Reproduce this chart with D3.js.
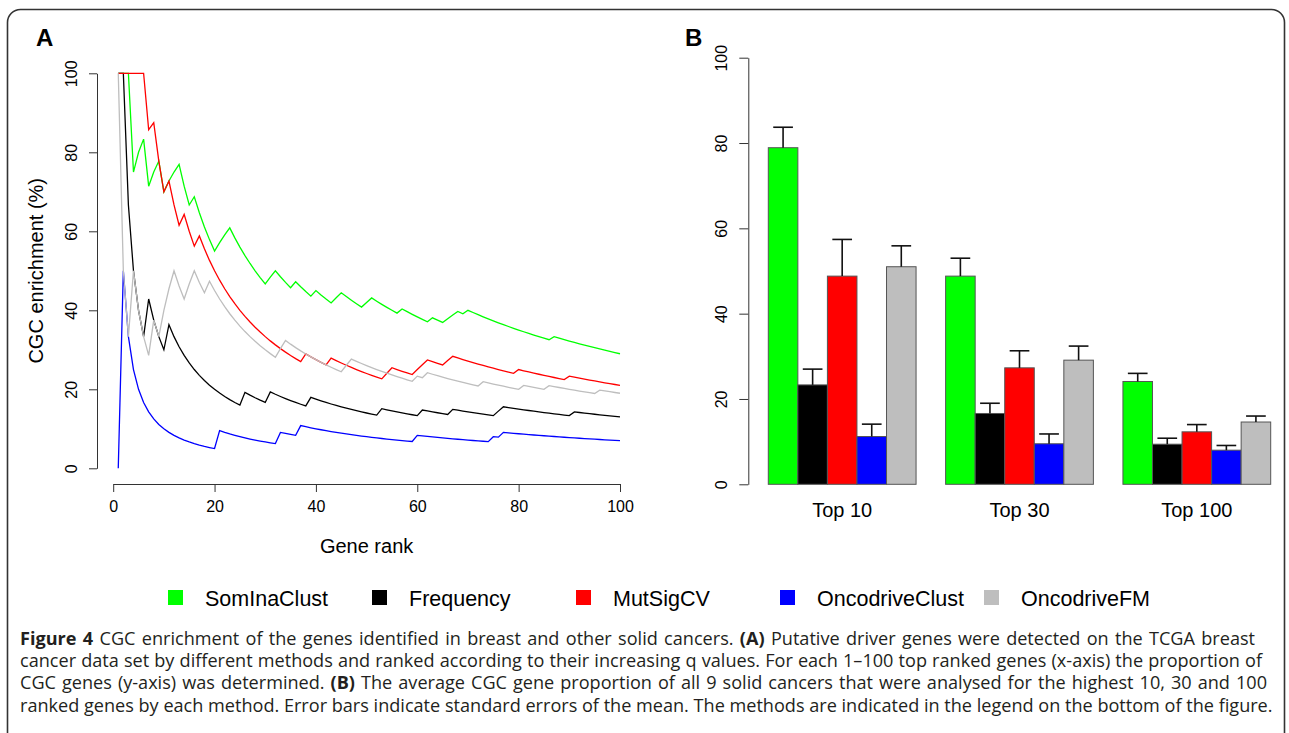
<!DOCTYPE html>
<html>
<head>
<meta charset="utf-8">
<script src="https://cdn.jsdelivr.net/npm/d3@7"></script>
<style>
  html, body { margin: 0; padding: 0; background: #fff; }
  svg { display: block; }
  .chart text { font-family: 'Liberation Sans', Arial, Helvetica, sans-serif; fill: #000; }
  .caption text { font-family: 'Open Sans', sans-serif; fill: #231f20; white-space: pre; }
</style>
</head>
<body>
<script>
const width = 1289
const height = 733

const methods = ['SomInaClust', 'Frequency', 'MutSigCV', 'OncodriveClust', 'OncodriveFM']
const methodColors = ['#00ff00', '#000000', '#ff0000', '#0000ff', '#bebebe']

// Panel A: ranks (1-100) at which each method picks up a CGC gene,
// read off the upward steps of the curves
const maxRank = 100
const hitsSomInaClust = [1, 2, 3, 5, 6, 8, 9, 11, 12, 13, 16, 21, 22, 23, 31, 32, 36, 40, 44, 45, 50, 51, 57, 63, 66, 67, 68, 70, 87]
const hitsFrequency = [1, 2, 7, 11, 26, 31, 39, 53, 61, 67, 76, 77, 91]
const hitsMutSigCV = [1, 2, 3, 4, 5, 6, 8, 11, 14, 17, 38, 43, 54, 55, 60, 61, 62, 66, 67, 80, 90]
const hitsOncodriveClust = [2, 21, 33, 37, 60, 75, 77]
const hitsOncodriveFM = [1, 4, 8, 10, 11, 12, 15, 16, 19, 33, 34, 46, 47, 60, 62, 73, 81, 86, 96]
const xTicksA = [0, 20, 40, 60, 80, 100]
const yTicks = [0, 20, 40, 60, 80, 100]

// Panel B: mean CGC proportion (%) and standard error per group
const groups = ['Top 10', 'Top 30', 'Top 100']
const meanSomInaClust = [78.9, 48.8, 24.1]
const meanFrequency = [23.3, 16.6, 9.4]
const meanMutSigCV = [48.8, 27.3, 12.3]
const meanOncodriveClust = [11.2, 9.5, 8.0]
const meanOncodriveFM = [51.0, 29.1, 14.6]
const seSomInaClust = [4.8, 4.2, 1.9]
const seFrequency = [3.7, 2.4, 1.4]
const seMutSigCV = [8.6, 4.0, 1.7]
const seOncodriveClust = [2.9, 2.3, 1.1]
const seOncodriveFM = [4.9, 3.3, 1.4]

const hits = [hitsSomInaClust, hitsFrequency, hitsMutSigCV, hitsOncodriveClust, hitsOncodriveFM]
const means = [meanSomInaClust, meanFrequency, meanMutSigCV, meanOncodriveClust, meanOncodriveFM]
const ses = [seSomInaClust, seFrequency, seMutSigCV, seOncodriveClust, seOncodriveFM]

// running proportion of CGC genes among the top n
function enrichment (h) {
  let k = 0
  return d3.range(1, maxRank + 1).map(n => {
    if (h.includes(n)) k++
    return { rank: n, value: 100 * k / n }
  })
}

const svg = d3.select('body').append('svg')
  .attr('width', width)
  .attr('height', height)
  .attr('class', 'chart')

// figure frame
svg.append('rect')
  .attr('x', 7.5).attr('y', 9.5)
  .attr('width', 1277).attr('height', 800)
  .attr('rx', 13)
  .attr('fill', 'none')
  .attr('stroke', '#333')
  .attr('stroke-width', 1.6)

// ---------- panel A ----------
const xA = d3.scaleLinear().domain([0, 100]).range([113.2, 620])
const yA = d3.scaleLinear().domain([0, 100]).range([468.3, 73.3])

svg.append('text').attr('x', 36).attr('y', 46)
  .style('font-size', '24px').style('font-weight', 'bold').text('A')

const axA = svg.append('g').attr('transform', 'translate(0,484)')
  .call(d3.axisBottom(xA).tickValues(xTicksA).tickSize(8).tickSizeOuter(0).tickPadding(9))
axA.selectAll('text').style('font-size', '16px').attr('font-family', null)

const ayA = svg.append('g').attr('transform', 'translate(97,0)')
  .call(d3.axisLeft(yA).tickValues(yTicks).tickSize(8).tickSizeOuter(0))
ayA.selectAll('text')
  .attr('transform', 'rotate(-90)')
  .attr('x', 0).attr('y', -26).attr('dy', '0.35em')
  .attr('text-anchor', 'middle')
  .style('font-size', '16px')
svg.selectAll('.domain, .tick line').attr('stroke', '#333')
svg.selectAll('.tick text').attr('font-family', null).attr('fill', '#000')

svg.append('text').attr('x', xA(50)).attr('y', 553)
  .attr('text-anchor', 'middle').style('font-size', '20px').text('Gene rank')
svg.append('text')
  .attr('transform', `translate(43,${(yA(0) + yA(100)) / 2}) rotate(-90)`)
  .attr('text-anchor', 'middle').style('font-size', '20px').text('CGC enrichment (%)')

const line = d3.line().x(d => xA(d.rank)).y(d => yA(d.value))
svg.append('g').selectAll('path')
  .data(hits.map((h, i) => ({ i, values: enrichment(h) })))
  .join('path')
  .attr('d', d => line(d.values))
  .attr('fill', 'none')
  .attr('stroke', d => methodColors[d.i])
  .attr('stroke-width', 1.3)

// ---------- panel B ----------
const yB = d3.scaleLinear().domain([0, 100]).range([484.3, 57.7])
const xG = d3.scaleBand().domain(groups).range([768.3, 1270.7]).paddingInner(1 / 6).paddingOuter(0)
const xM = d3.scaleBand().domain(methods).range([0, xG.bandwidth()])

svg.append('text').attr('x', 685).attr('y', 46)
  .style('font-size', '24px').style('font-weight', 'bold').text('B')

const ayB = svg.append('g').attr('transform', 'translate(748.3,0)')
  .call(d3.axisLeft(yB).tickValues(yTicks).tickSize(9).tickSizeOuter(0))
ayB.selectAll('text')
  .attr('transform', 'rotate(-90)')
  .attr('x', 0).attr('y', -27).attr('dy', '0.35em')
  .attr('text-anchor', 'middle')
  .attr('font-family', null).attr('fill', '#000')
  .style('font-size', '16px')
ayB.selectAll('.domain, .tick line').attr('stroke', '#333')

const barData = []
groups.forEach((g, gi) => methods.forEach((m, mi) => {
  barData.push({ g, m, mi, mean: means[mi][gi], se: ses[mi][gi] })
}))

const bar = svg.append('g').selectAll('g')
  .data(barData)
  .join('g')
  .attr('transform', d => `translate(${xG(d.g) + xM(d.m)},0)`)

bar.append('rect')
  .attr('x', 0)
  .attr('y', d => yB(d.mean))
  .attr('width', xM.bandwidth())
  .attr('height', d => yB(0) - yB(d.mean))
  .attr('fill', d => methodColors[d.mi])
  .attr('stroke', '#555')
  .attr('stroke-width', 1)

const cx = xM.bandwidth() / 2
const capHalf = xM.bandwidth() / 3
bar.append('line')
  .attr('x1', cx).attr('x2', cx)
  .attr('y1', d => yB(d.mean)).attr('y2', d => yB(d.mean + d.se))
  .attr('stroke', '#111').attr('stroke-width', 1.6)
bar.append('line')
  .attr('x1', cx - capHalf).attr('x2', cx + capHalf)
  .attr('y1', d => yB(d.mean + d.se)).attr('y2', d => yB(d.mean + d.se))
  .attr('stroke', '#111').attr('stroke-width', 1.6)

svg.append('g').selectAll('text')
  .data(groups)
  .join('text')
  .attr('x', d => xG(d) + xG.bandwidth() / 2)
  .attr('y', 517)
  .attr('text-anchor', 'middle')
  .style('font-size', '20px')
  .text(d => d)

// ---------- legend ----------
const legend = svg.append('g').selectAll('g')
  .data(methods)
  .join('g')
  .attr('transform', (d, i) => `translate(${168 + i * 204},590)`)
legend.append('rect')
  .attr('width', 15).attr('height', 15)
  .attr('fill', (d, i) => methodColors[i])
legend.append('text')
  .attr('x', 37).attr('y', 15.5)
  .style('font-size', '21.5px')
  .text(d => d)

// ---------- caption ----------
const captionLines = [
  [['Figure 4', true], [' CGC enrichment of the genes identified in breast and other solid cancers. ', false], ['(A)', true], [' Putative driver genes were detected on the TCGA breast', false]],
  [['cancer data set by different methods and ranked according to their increasing q values. For each 1–100 top ranked genes (x-axis) the proportion of', false]],
  [['CGC genes (y-axis) was determined. ', false], ['(B)', true], [' The average CGC gene proportion of all 9 solid cancers that were analysed for the highest 10, 30 and 100', false]],
  [['ranked genes by each method. Error bars indicate standard errors of the mean. The methods are indicated in the legend on the bottom of the figure.', false]]
]
const captionRight = [1255, 1262, 1267, null] // justified line ends
const cap = svg.append('g').attr('class', 'caption')
captionLines.forEach((parts, li) => {
  const t = cap.append('text')
    .attr('x', 20)
    .attr('y', 645 + li * 22.2)
    .style('font-size', '18.1px')
  parts.forEach(([s, b]) => {
    t.append('tspan').style('font-weight', b ? 'bold' : 'normal').text(s)
  })
  if (captionRight[li]) {
    const natural = t.node().getComputedTextLength()
    const spaces = parts.map(p => p[0]).join('').split(' ').length - 1
    const extra = (captionRight[li] - 20 - natural) / spaces
    if (extra > 0) t.style('word-spacing', `${extra}px`)
  }
})
</script>
</body>
</html>
